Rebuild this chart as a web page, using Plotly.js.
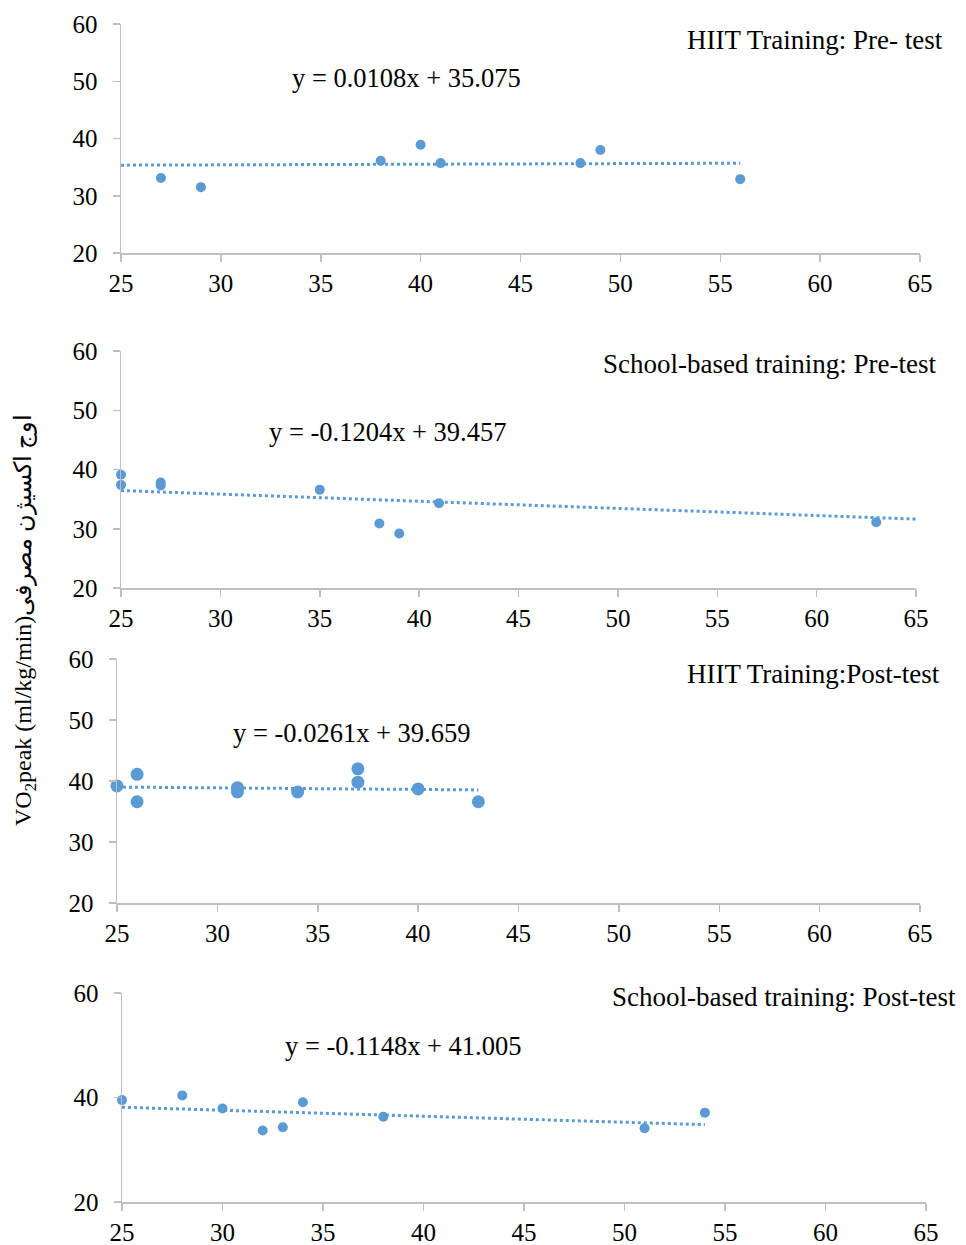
<!DOCTYPE html>
<html>
<head>
<meta charset="utf-8">
<script src="https://cdn.plot.ly/plotly-3.0.1.min.js"></script>
<style>html,body{margin:0;padding:0;background:#fff;}#chart{width:966px;height:1245px;}</style>
</head>
<body>
<div id="chart"></div>
<script>
// Panel 1: HIIT Training: Pre- test
const p1x = [27, 29, 38, 40, 41, 48, 49, 56];
const p1y = [33.1, 31.5, 36.1, 38.9, 35.7, 35.7, 38.0, 32.9];
// Panel 2: School-based training: Pre-test
const p2x = [25, 25, 27, 27, 35, 38, 39, 41, 63];
const p2y = [39.1, 37.4, 37.8, 37.3, 36.6, 30.9, 29.2, 34.3, 31.1];
// Panel 3: HIIT Training: Post-test
const p3x = [25, 26, 26, 31, 31, 34, 37, 37, 40, 43];
const p3y = [39.2, 41.1, 36.6, 38.9, 38.2, 38.2, 42.0, 39.8, 38.7, 36.6];
// Panel 4: School-based training: Post-test
const p4x = [25, 28, 30, 32, 33, 34, 38, 51, 54];
const p4y = [39.5, 40.4, 37.9, 33.7, 34.3, 39.1, 36.3, 34.1, 37.1];

const panelTitles = ["HIIT Training: Pre- test", "School-based training: Pre-test", "HIIT Training:Post-test", "School-based training: Post-test"];
const equations = ["y = 0.0108x + 35.075", "y = -0.1204x + 39.457", "y = -0.0261x + 39.659", "y = -0.1148x + 41.005"];
const slopes = [0.0108, -0.1204, -0.0261, -0.1148];
const intercepts = [35.075, 39.457, 39.659, 41.005];
const trendStart = [25, 25, 25, 25];
const trendEnd = [56, 65, 43, 54];
const xTicks = [25, 30, 35, 40, 45, 50, 55, 60, 65];
const yTicks123 = [20, 30, 40, 50, 60];
const yTicks4 = [20, 40, 60];

const W = 966, H = 1245;
const color = '#5b9bd5';
const font = 'Liberation Serif';

// pixel boxes [left, right, top, bottom]
const boxes = [
  [121, 920, 24, 253],
  [121, 916, 351, 588],
  [117, 920, 659, 903],
  [122, 926, 993, 1202]
];
const xs = [p1x, p2x, p3x, p4x];
const ys = [p1y, p2y, p3y, p4y];
const msize = [10, 10, 13, 10];

const traces = [];
const layout = {
  width: W, height: H,
  margin: {l: 0, r: 0, t: 0, b: 0},
  paper_bgcolor: '#fff', plot_bgcolor: '#fff',
  showlegend: false,
  font: {family: font, size: 26, color: '#000'},
  annotations: []
};

for (let i = 0; i < 4; i++) {
  const sfx = i === 0 ? '' : String(i + 1);
  const b = boxes[i];
  const xa = 'xaxis' + sfx, ya = 'yaxis' + sfx;
  const axCommon = () => ({
    showgrid: false, zeroline: false, showline: true,
    linecolor: '#bfbfbf', linewidth: 1.5,
    ticks: 'outside', ticklen: 7, tickcolor: '#bfbfbf', tickwidth: 1.5,
    tickfont: {family: font, size: 25, color: '#000'},
    fixedrange: true
  });
  layout[xa] = Object.assign(axCommon(), {
    domain: [b[0] / W, b[1] / W], range: [25, 65],
    tickmode: 'array', tickvals: xTicks, anchor: 'y' + sfx,
    ticklabelstandoff: 0
  });
  layout[ya] = Object.assign(axCommon(), {
    domain: [1 - b[3] / H, 1 - b[2] / H], range: [20, 60],
    tickmode: 'array', tickvals: i === 3 ? yTicks4 : yTicks123, anchor: 'x' + sfx,
    ticklabelstandoff: 10
  });
  const tx = [trendStart[i], trendEnd[i]];
  traces.push({
    x: tx, y: tx.map(v => slopes[i] * v + intercepts[i]),
    xaxis: 'x' + sfx, yaxis: 'y' + sfx,
    mode: 'lines', line: {color: color, width: 3, dash: 'dot'},
    hoverinfo: 'skip', cliponaxis: false
  });
  traces.push({
    x: xs[i], y: ys[i], xaxis: 'x' + sfx, yaxis: 'y' + sfx,
    mode: 'markers', marker: {color: color, size: msize[i]},
    cliponaxis: false
  });
}

// titles and equations (pixel positions converted to paper)
const titlePos = [[945, 40], [938, 364], [942, 674], [958, 997]];
const eqPos = [[406, 78], [387, 432], [351, 733], [403, 1046]];
for (let i = 0; i < 4; i++) {
  layout.annotations.push({
    xref: 'paper', yref: 'paper', x: titlePos[i][0] / W, y: 1 - titlePos[i][1] / H,
    xanchor: 'right', yanchor: 'middle', showarrow: false,
    text: panelTitles[i], font: {family: font, size: 27, color: '#000'}
  });
  layout.annotations.push({
    xref: 'paper', yref: 'paper', x: eqPos[i][0] / W, y: 1 - eqPos[i][1] / H,
    xanchor: 'center', yanchor: 'middle', showarrow: false,
    text: equations[i], font: {family: font, size: 26.5, color: '#000'}
  });
}
layout.annotations.push({
  xref: 'paper', yref: 'paper', x: 25 / W, y: 1 - 620 / H,
  xanchor: 'center', yanchor: 'middle', showarrow: false, textangle: -90,
  text: 'VO<sub>2</sub>peak (ml/kg/min)\u200Eاوج اکسیژن مصرفی',
  font: {family: font, size: 24, color: '#000'}
});

Plotly.newPlot('chart', traces, layout, {displayModeBar: false, staticPlot: true});
</script>
</body>
</html>
